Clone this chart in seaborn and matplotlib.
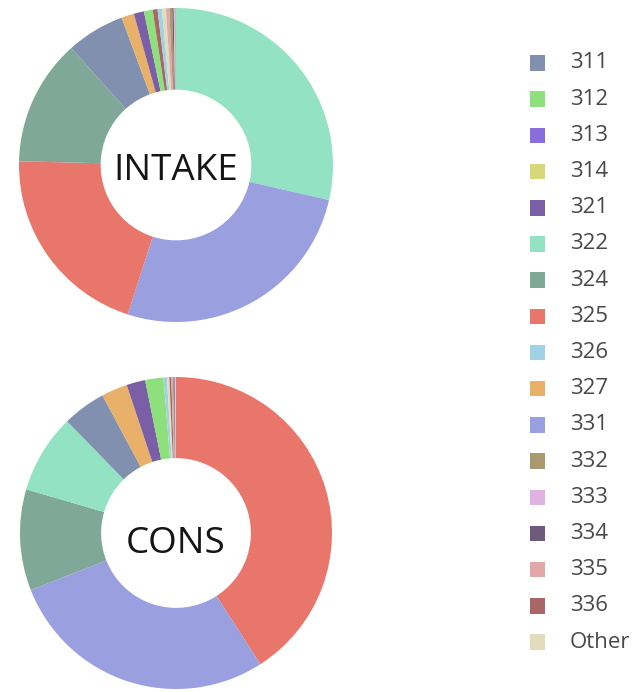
import matplotlib
matplotlib.use("Agg")
import matplotlib.pyplot as plt
import seaborn as sns

sns.set_theme(style="white")
plt.rcParams["font.family"] = ["Open Sans", "DejaVu Sans"]

# Industry codes, in legend order
codes = ["311", "312", "313", "314", "321", "322", "324", "325", "326",
         "327", "331", "332", "333", "334", "335", "336", "Other"]

colors = ["#8190ae", "#8ee07c", "#8a6ddc", "#d8d87a", "#7b5fa6", "#93e2c4",
          "#7fa898", "#e8766a", "#9fd2e4", "#e8b068", "#9a9fe0", "#a89a6e",
          "#e0b2e0", "#6e5a7a", "#e0a8a6", "#a86666", "#e0dcbc"]

# Share of each code (percent)
intake = [6.0, 0.9, 0.08, 0.1, 1.05, 28.6, 13.0, 20.4, 0.45,
          1.3, 26.4, 0.3, 0.05, 0.15, 0.35, 0.5, 0.4]
cons = [4.5, 1.9, 0.05, 0.05, 1.95, 8.2, 10.5, 41.0, 0.35,
        2.7, 28.2, 0.1, 0.05, 0.08, 0.15, 0.2, 0.25]

palette = dict(zip(codes, colors))

W, H = 638, 692
fig = plt.figure(figsize=(W / 100, H / 100), dpi=100)


def donut(values, title, cx, cy, r, text_dy):
    ax = fig.add_axes([(cx - r) / W, (H - cy - r) / H, 2 * r / W, 2 * r / H])
    pairs = sorted(zip(codes, values), key=lambda p: -p[1])
    labels = [p[0] for p in pairs]
    vals = [p[1] for p in pairs]
    ax.pie(vals, colors=[palette[c] for c in labels], startangle=90,
           counterclock=False, radius=1.0,
           wedgeprops=dict(width=0.52, linewidth=0))
    ax.set_xlim(-1, 1)
    ax.set_ylim(-1, 1)
    ax.set_aspect("equal")
    ax.axis("off")
    ax.text(0, text_dy, title, ha="center", va="center", fontsize=26.5, color="#151515")


donut(intake, "INTAKE", 176, 165, 157, -0.04)
donut(cons, "CONS", 176, 533, 156, -0.07)

# Legend column
row0, step = 63, 36.19
top = row0 - 0.5 * step
bot = row0 + (len(codes) - 0.5) * step
lax = fig.add_axes([520 / W, (H - bot) / H, 118 / W, (bot - top) / H])
lax.set_xlim(0, 118)
lax.set_ylim(len(codes) - 0.5, -0.5)
lax.axis("off")
rows = list(range(len(codes)))
lax.scatter([17.5] * len(codes), rows, marker="s", s=125, c=colors, linewidths=0)
for i, c in enumerate(codes):
    lax.text(50, i, c, ha="left", va="center", fontsize=16, color="#484848")

fig.savefig("out.png", dpi=100, facecolor="white")
